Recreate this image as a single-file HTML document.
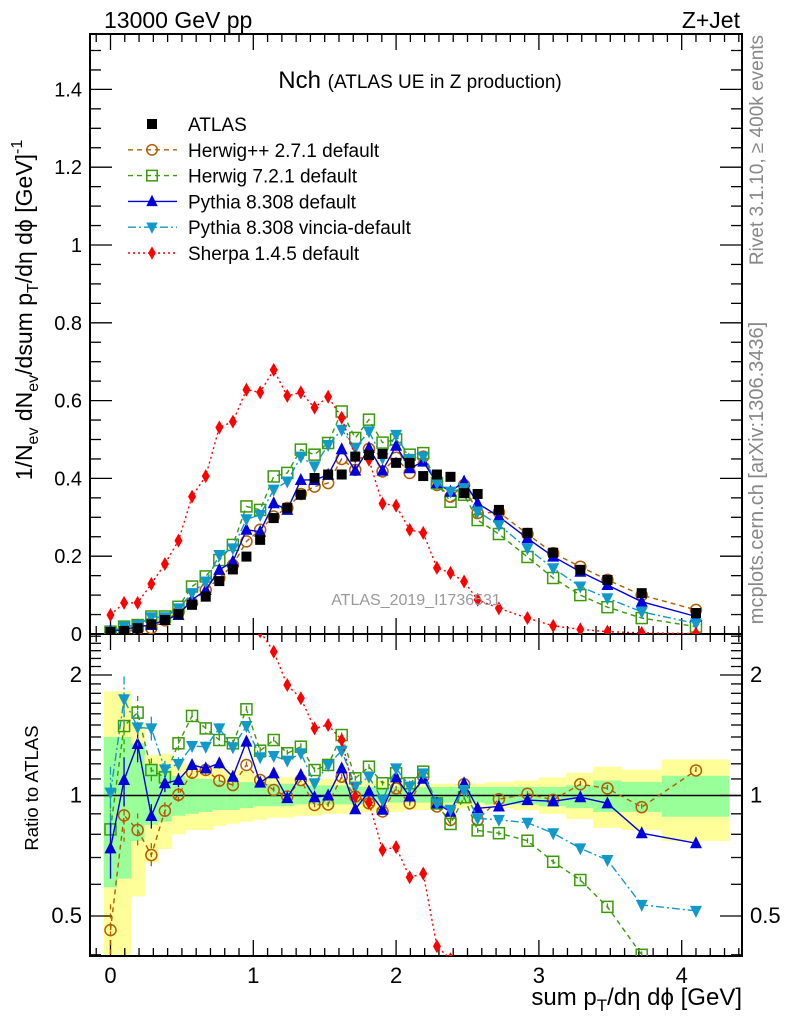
<!DOCTYPE html>
<html><head><meta charset="utf-8"><style>
html,body{margin:0;padding:0;background:#fff;width:786px;height:1024px;overflow:hidden;}
svg{display:block;font-family:"Liberation Sans",sans-serif;}
</style></head><body>
<svg id="chart" width="786" height="1024" viewBox="0 0 786 1024" xmlns="http://www.w3.org/2000/svg">
<defs>
<clipPath id="cm"><rect x="90" y="34" width="652" height="600"/></clipPath>
<clipPath id="cr"><rect x="90" y="634" width="652" height="322"/></clipPath>
</defs>
<g id="bands" clip-path="url(#cr)"></g>
<g id="axes"></g>
<g id="mainMarks" clip-path="url(#cm)"></g>
<g id="ratioMarks" clip-path="url(#cr)"></g>
<text x="104" y="28" font-size="23">13000 GeV pp</text>
<text x="740" y="28" font-size="23" text-anchor="end">Z+Jet</text>
<text x="420" y="88" font-size="24" text-anchor="middle">Nch <tspan font-size="19">(ATLAS UE in Z production)</tspan></text>
<text x="416" y="605" font-size="16" fill="#999" text-anchor="middle">ATLAS_2019_I1736531</text>
<text transform="translate(763,150) rotate(-90)" font-size="19" fill="#888" text-anchor="middle">Rivet 3.1.10, ≥ 400k events</text>
<text transform="translate(763,473) rotate(-90)" font-size="20" fill="#888" text-anchor="middle">mcplots.cern.ch [arXiv:1306.3436]</text>
<text transform="translate(32,310) rotate(-90)" font-size="23" text-anchor="middle">1/N<tspan font-size="16" dy="6">ev</tspan><tspan dy="-6"> dN</tspan><tspan font-size="16" dy="6">ev</tspan><tspan dy="-6">/dsum p</tspan><tspan font-size="16" dy="6">T</tspan><tspan dy="-6">/dη dϕ  [GeV]</tspan><tspan font-size="16" dy="-10">-1</tspan></text>
<text transform="translate(38,788) rotate(-90)" font-size="18.5" text-anchor="middle">Ratio to ATLAS</text>
<text x="742" y="1005" font-size="24" text-anchor="end">sum p<tspan font-size="17" dy="6">T</tspan><tspan dy="-6">/dη dϕ [GeV]</tspan></text>
<g id="legend"></g>
</svg>
<script>
const X=[0,0.095,0.19,0.286,0.381,0.476,0.571,0.667,0.762,0.857,0.952,1.048,1.143,1.238,1.333,1.429,1.524,1.619,1.714,1.81,1.905,2.0,2.095,2.19,2.286,2.381,2.476,2.571,2.72,2.92,3.1,3.29,3.48,3.72,4.1];
const EDGES=[-0.048,0.048,0.143,0.238,0.333,0.429,0.524,0.619,0.714,0.81,0.905,1.0,1.095,1.19,1.286,1.381,1.476,1.571,1.667,1.762,1.857,1.952,2.048,2.143,2.238,2.333,2.429,2.524,2.619,2.82,3.0,3.19,3.38,3.58,3.86,4.33];
const atlas=[0.005,0.008,0.015,0.025,0.036,0.051,0.075,0.096,0.136,0.166,0.199,0.242,0.298,0.324,0.358,0.401,0.41,0.41,0.456,0.46,0.463,0.44,0.44,0.406,0.41,0.404,0.362,0.36,0.319,0.26,0.209,0.165,0.139,0.105,0.054];
const herwigpp=[0.003,0.006,0.012,0.015,0.035,0.056,0.08,0.113,0.144,0.177,0.238,0.268,0.302,0.324,0.36,0.379,0.388,0.45,0.422,0.476,0.418,0.453,0.414,0.456,0.383,0.353,0.383,0.311,0.313,0.257,0.208,0.173,0.139,0.1,0.062];
const herwig7=[0.006,0.019,0.023,0.045,0.045,0.07,0.122,0.148,0.19,0.229,0.328,0.319,0.405,0.414,0.474,0.461,0.491,0.572,0.504,0.551,0.492,0.5,0.461,0.465,0.388,0.34,0.358,0.293,0.257,0.198,0.144,0.1,0.069,0.041,0.019];
const pythia=[0.008,0.011,0.019,0.023,0.036,0.049,0.088,0.113,0.165,0.186,0.268,0.263,0.336,0.319,0.396,0.396,0.409,0.475,0.42,0.478,0.42,0.484,0.426,0.443,0.388,0.366,0.392,0.336,0.302,0.246,0.199,0.16,0.126,0.083,0.045];
const vincia=[0.006,0.019,0.023,0.043,0.043,0.066,0.105,0.135,0.203,0.22,0.295,0.306,0.371,0.392,0.456,0.431,0.486,0.525,0.478,0.521,0.452,0.512,0.45,0.456,0.388,0.366,0.375,0.315,0.28,0.22,0.169,0.122,0.092,0.057,0.027];
const sherpa=[0.049,0.08,0.08,0.129,0.18,0.24,0.353,0.406,0.531,0.546,0.628,0.621,0.679,0.612,0.621,0.582,0.61,0.556,0.456,0.448,0.335,0.33,0.268,0.26,0.17,0.157,0.135,0.088,0.066,0.041,0.021,0.012,0.006,0.003,0.001];
const rHerwigpp=[0.461,0.892,0.82,0.71,0.916,1.004,1.14,1.158,1.089,1.062,1.192,1.093,1.032,0.994,1.093,0.947,0.95,1.114,0.994,0.956,0.912,1.042,0.956,1.114,0.939,0.869,1.067,0.869,0.979,1.01,0.975,1.067,1.042,0.935,1.155];
const rHerwig7=[0.823,1.491,1.611,1.158,1.11,1.35,1.58,1.471,1.376,1.35,1.642,1.294,1.376,1.275,1.324,1.158,1.192,1.416,1.104,1.18,1.073,1.136,1.073,1.147,0.956,0.849,0.99,0.818,0.805,0.771,0.683,0.615,0.527,0.4,0.3];
const rPythia=[0.738,1.093,1.345,0.889,1.073,1.093,1.192,1.169,1.204,1.114,1.363,1.077,1.136,0.985,1.125,0.99,1.0,1.169,0.924,1.023,0.921,1.11,0.994,1.101,0.956,0.911,1.073,0.929,0.939,0.974,0.967,0.99,0.956,0.805,0.76];
const rVincia=[1.017,1.739,1.48,1.471,1.162,1.199,1.329,1.324,1.471,1.32,1.491,1.246,1.255,1.222,1.275,1.073,1.192,1.294,1.053,1.114,0.974,1.169,1.053,1.136,0.956,0.921,1.032,0.877,0.869,0.855,0.805,0.738,0.69,0.533,0.515];
const rSherpa=[9.8,10,5.3,5.2,5,4.7,4.7,4.2,3.9,3.3,3.16,2.57,2.287,1.888,1.75,1.471,1.5,1.376,0.994,0.96,0.731,0.743,0.625,0.638,0.42,0.39,0.37,0.24,0.2,0.16,0.1,0.07,0.04,0.03,0.02];
const rErr=[0.16,0.14,0.1,0.07,0.05,0.04,0.03,0.03,0.03,0.02,0.02,0.02,0.02,0.02,0.02,0.015,0.015,0.015,0.015,0.015,0.015,0.015,0.015,0.015,0.015,0.015,0.015,0.015,0.015,0.015,0.015,0.02,0.02,0.02,0.02];
const yelHi=[1.82,1.82,1.52,1.26,1.27,1.2,1.2,1.18,1.17,1.16,1.15,1.12,1.12,1.11,1.11,1.1,1.1,1.1,1.09,1.09,1.09,1.08,1.08,1.08,1.07,1.07,1.07,1.07,1.08,1.09,1.11,1.14,1.18,1.16,1.23];
const yelLo=[0.4,0.4,0.56,0.68,0.735,0.8,0.82,0.82,0.84,0.85,0.86,0.87,0.88,0.88,0.89,0.89,0.9,0.9,0.9,0.91,0.91,0.91,0.92,0.92,0.92,0.93,0.93,0.93,0.93,0.92,0.9,0.874,0.83,0.82,0.77];
const grnHi=[1.4,1.4,1.35,1.2,1.16,1.12,1.1,1.1,1.09,1.08,1.08,1.07,1.07,1.07,1.06,1.06,1.06,1.06,1.05,1.05,1.05,1.05,1.05,1.05,1.05,1.05,1.05,1.05,1.05,1.05,1.05,1.06,1.09,1.08,1.12];
const grnLo=[0.59,0.62,0.77,0.845,0.86,0.89,0.9,0.91,0.92,0.92,0.93,0.94,0.94,0.94,0.95,0.95,0.95,0.95,0.95,0.96,0.96,0.96,0.96,0.96,0.96,0.96,0.96,0.96,0.95,0.95,0.94,0.93,0.91,0.91,0.885];
const yTicks=[0,0.2,0.4,0.6,0.8,1,1.2,1.4];
const yTickLabels=["0","0.2","0.4","0.6","0.8","1","1.2","1.4"];
const xTicks=[0,1,2,3,4];
const rTicks=[0.5,1,2];
const rTickLabels=["0.5","1","2"];

const NS="http://www.w3.org/2000/svg";
const L=90,R=742,T=34,MB=634,RB=956;
const sx=v=>110.5+v*142.8;
const sy=v=>MB-v*389;
const sr=r=>795.5-Math.log2(r)*120.5;
function mk(tag,attrs,parent){const e=document.createElementNS(NS,tag);for(const k in attrs)e.setAttribute(k,attrs[k]);parent.appendChild(e);return e;}

const gb=document.getElementById('bands');
for(let i=0;i<X.length;i++){
  const x0=sx(EDGES[i]),x1=sx(EDGES[i+1]);
  const y=mk('rect',{x:x0,y:sr(yelHi[i]),width:x1-x0+0.5,height:sr(yelLo[i])-sr(yelHi[i]),fill:'#ffff99'},gb);
  
  
  const g=mk('rect',{x:x0,y:sr(grnHi[i]),width:x1-x0+0.5,height:sr(grnLo[i])-sr(grnHi[i]),fill:'#99ff99'},gb);
  
  
}

const ga=document.getElementById('axes');
mk('rect',{x:L,y:T,width:R-L,height:MB-T,fill:'none',stroke:'#000','stroke-width':2},ga);
mk('rect',{x:L,y:MB,width:R-L,height:RB-MB,fill:'none',stroke:'#000','stroke-width':2},ga);
mk('line',{x1:L,x2:R,y1:sr(1),y2:sr(1),stroke:'#000','stroke-width':1.5},ga);
function tick(x1,y1,x2,y2){mk('line',{x1,y1,x2,y2,stroke:'#000','stroke-width':1.3},ga);}
for(let v=0;v<=1.5001;v+=0.05){const y=sy(v);if(y<T)continue;const maj=Math.abs(v/0.2-Math.round(v/0.2))<1e-6;const len=maj?22:11;tick(L,y,L+len,y);tick(R,y,R-len,y);}
yTicks.forEach((v,i)=>{const t=mk('text',{x:82,y:sy(v)+7,'font-size':20,'text-anchor':'end'},ga);t.textContent=yTickLabels[i];});
for(let v=-0.1;v<=4.4;v+=0.1){const x=sx(v);if(x<L+1||x>R-1)continue;const maj=Math.abs(v-Math.round(v))<1e-6;const len=maj?16:8;tick(x,T,x,T+len);tick(x,MB,x,MB-len);tick(x,MB,x,MB+len);tick(x,RB,x,RB-len);}
xTicks.forEach(v=>{const t=mk('text',{x:sx(v),y:983,'font-size':22,'text-anchor':'middle'},ga);t.textContent=String(v);});
const rMinor=[0.4,0.5,0.6,0.7,0.8,0.9,1,1.1,1.2,1.3,1.4,1.5,1.6,1.7,1.8,1.9,2,2.1,2.2,2.3,2.4,2.5];
rMinor.forEach(v=>{const y=sr(v);if(y<MB||y>RB)return;const maj=rTicks.includes(v);const len=maj?22:11;tick(L,y,L+len,y);tick(R,y,R-len,y);});
rTicks.forEach((v,i)=>{let t=mk('text',{x:82,y:sr(v)+7,'font-size':22,'text-anchor':'end'},ga);t.textContent=rTickLabels[i];
 t=mk('text',{x:750,y:sr(v)+7,'font-size':22},ga);t.textContent=rTickLabels[i];});

function marker(type,cx,cy,color,parent,s){
  s=s||1;let e;
  if(type==='square') e=mk('rect',{x:cx-5*s,y:cy-5*s,width:10*s,height:10*s,fill:'#000'},parent);
  else if(type==='circle') e=mk('circle',{cx,cy,r:5.5*s,fill:'#fff','fill-opacity':0,stroke:color,'stroke-width':1.5},parent);
  else if(type==='osquare') e=mk('rect',{x:cx-5.5*s,y:cy-5.5*s,width:11*s,height:11*s,fill:'none',stroke:color,'stroke-width':1.5},parent);
  else if(type==='up') e=mk('polygon',{points:`${cx},${cy-7*s} ${cx-6*s},${cy+5*s} ${cx+6*s},${cy+5*s}`,fill:color},parent);
  else if(type==='down') e=mk('polygon',{points:`${cx},${cy+7*s} ${cx-6*s},${cy-5*s} ${cx+6*s},${cy-5*s}`,fill:color},parent);
  else if(type==='diamond') e=mk('polygon',{points:`${cx},${cy-7*s} ${cx-4*s},${cy} ${cx},${cy+7*s} ${cx+4*s},${cy}`,fill:color},parent);
  return e;
}
const series=[
 {name:'herwigpp-2.7.1',label:'Herwig++ 2.7.1 default',main:herwigpp,ratio:rHerwigpp,color:'#b35c00',dash:'5,4',m:'circle'},
 {name:'herwig-7.2.1',label:'Herwig 7.2.1 default',main:herwig7,ratio:rHerwig7,color:'#3a9a0a',dash:'5,4',m:'osquare'},
 {name:'pythia-8.308',label:'Pythia 8.308 default',main:pythia,ratio:rPythia,color:'#0000dd',dash:'',m:'up'},
 {name:'pythia-8.308-vincia',label:'Pythia 8.308 vincia-default',main:vincia,ratio:rVincia,color:'#1199cc',dash:'8,3,2,3',m:'down'},
 {name:'sherpa-1.4.5',label:'Sherpa 1.4.5 default',main:sherpa,ratio:rSherpa,color:'#ff0000',dash:'2,3',m:'diamond'}
];
const gm=document.getElementById('mainMarks'), gr=document.getElementById('ratioMarks');
series.forEach(s=>{
  const gM=mk('g',{},gm);
  
  
  mk('polyline',{points:X.map((x,i)=>sx(x)+','+sy(s.main[i])).join(' '),fill:'none',stroke:s.color,'stroke-width':1.4,'stroke-dasharray':s.dash},gM);
  X.forEach((x,i)=>{const p=marker(s.m,sx(x),sy(s.main[i]),s.color,gM);});
  const gR=mk('g',{},gr);
  
  
  mk('polyline',{points:X.map((x,i)=>sx(x)+','+sr(s.ratio[i])).join(' '),fill:'none',stroke:s.color,'stroke-width':1.4,'stroke-dasharray':s.dash},gR);
  X.forEach((x,i)=>{
    const r=s.ratio[i],e=rErr[i];
    mk('line',{x1:sx(x),x2:sx(x),y1:sr(r*(1+e)),y2:sr(r*(1-e)),stroke:s.color,'stroke-width':1.3,'stroke-dasharray':s.dash},gR);
    const p=marker(s.m,sx(x),sr(r),s.color,gR);
  });
});
const gA=mk('g',{},gm);


X.forEach((x,i)=>{const p=marker('square',sx(x),sy(atlas[i]),'#000',gA);});

const gl=document.getElementById('legend');
const rows=[{label:'ATLAS',m:'square',color:'#000',dash:null}].concat(series.map(s=>({label:s.label,m:s.m,color:s.color,dash:s.dash})));
rows.forEach((r,i)=>{
  const y=124+i*25.8;
  const g=mk('g',{},gl);
  
  
  if(r.dash!==null) mk('line',{x1:128,x2:177,y1:y,y2:y,stroke:r.color,'stroke-width':1.4,'stroke-dasharray':r.dash},g);
  marker(r.m,152,y,r.color,g,r.m==='square'?1:0.95);
  const t=mk('text',{x:188,y:y+7,'font-size':19},g);t.textContent=r.label;
});
</script>
</body></html>
